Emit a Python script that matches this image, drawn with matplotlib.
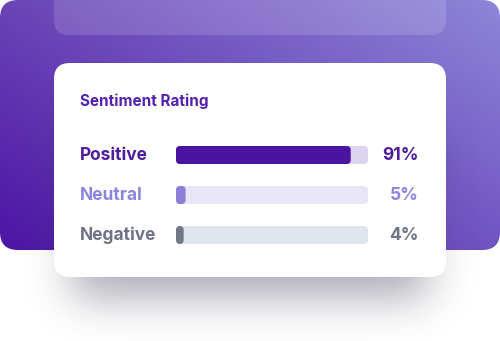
import math
import numpy as np
import matplotlib
matplotlib.use('Agg')
import matplotlib.pyplot as plt
from matplotlib.patches import FancyBboxPatch
from matplotlib.transforms import blended_transform_factory

# data
categories = ['Positive', 'Neutral', 'Negative']
values = [91, 5, 4]
value_labels = ['91%', '5%', '4%']
title = 'Sentiment Rating'

text_colors = ['#4f1d9c', '#8d85db', '#6e7485']
fill_colors = ['#4b14a0', '#8a80d8', '#717888']
track_colors = ['#ddd4ef', '#e9e6f8', '#e0e5ef']

plt.rcParams['font.family'] = ['Inter', 'DejaVu Sans']

W, H = 500, 341
fig = plt.figure(figsize=(W / 100, H / 100), dpi=100)
fig.patch.set_facecolor('white')

# background canvas in pixel coordinates
bg = fig.add_axes([0, 0, 1, 1])
bg.set_xlim(0, W)
bg.set_ylim(H, 0)
bg.axis('off')

# purple gradient panel (diagonal: dark bottom-left -> light top-right)
c_tl = np.array([0x6a, 0x44, 0xb6]) / 255
c_tr = np.array([0x8e, 0x86, 0xd8]) / 255
c_bl = np.array([0x4c, 0x14, 0xa4]) / 255
c_br = np.array([0x70, 0x54, 0xc2]) / 255
u = np.linspace(0, 1, W)[None, :, None]
v = np.linspace(0, 1, 250)[:, None, None]
grad = (c_tl * (1 - u) * (1 - v) + c_tr * u * (1 - v)
        + c_bl * (1 - u) * v + c_br * u * v)
panel = FancyBboxPatch((0, 0), W, 250, boxstyle='round,pad=0,rounding_size=18',
                       facecolor='none', edgecolor='none')
bg.add_patch(panel)
im = bg.imshow(grad, extent=(0, W, 250, 0), interpolation='bilinear', zorder=1)
im.set_clip_path(panel)

# translucent strip at top
bg.add_patch(FancyBboxPatch((54, -30), 392, 65, boxstyle='round,pad=0,rounding_size=15',
                            facecolor='white', edgecolor='none', alpha=0.14, zorder=2))

# soft shadow under the card
erf = np.vectorize(math.erf)
xs = np.arange(W) + 0.5
ys = np.arange(H) + 0.5
s = 30.0
fx = 0.5 * (erf((xs - 72) / s) - erf((xs - 428) / s))
fy = 0.5 * (erf((ys - 130) / s) - erf((ys - 298) / s))
alpha = 0.42 * np.outer(fy, fx)
shadow = np.zeros((H, W, 4))
shadow[..., 0] = 0.24
shadow[..., 1] = 0.22
shadow[..., 2] = 0.32
shadow[..., 3] = alpha
bg.imshow(shadow, extent=(0, W, H, 0), interpolation='bilinear', zorder=3)
bg.set_xlim(0, W)
bg.set_ylim(H, 0)

# white card
bg.add_patch(FancyBboxPatch((54, 63), 392, 214, boxstyle='round,pad=0,rounding_size=16',
                            facecolor='white', edgecolor='none', zorder=4))

bg.text(80, 101, title, fontsize=11, fontweight='bold', color='#5421b0',
        ha='left', va='center', zorder=5)

# bars axes: x 0-100 mapped on the track width
x0, x1, y_top, y_bot = 176, 368, 135, 255
ax = fig.add_axes([x0 / W, (H - y_bot) / H, (x1 - x0) / W, (y_bot - y_top) / H])
ax.set_xlim(0, 100)
ax.set_ylim(len(categories) - 0.5, -0.5)
ax.axis('off')
ax.patch.set_alpha(0)

px_x = (x1 - x0) / 100.0
px_y = (y_bot - y_top) / len(categories)
bar_h = 18 / px_y
r = 4 / px_x
aspect = (1 / px_y) / (1 / px_x)

for i, (val, fc, tc) in enumerate(zip(values, fill_colors, track_colors)):
    ax.add_patch(FancyBboxPatch((0, i - bar_h / 2), 100, bar_h,
                                boxstyle=f'round,pad=0,rounding_size={r}',
                                mutation_aspect=aspect, facecolor=tc, edgecolor='none'))
    ax.add_patch(FancyBboxPatch((0, i - bar_h / 2), val, bar_h,
                                boxstyle=f'round,pad=0,rounding_size={r}',
                                mutation_aspect=aspect, facecolor=fc, edgecolor='none'))

tr = blended_transform_factory(bg.transData, ax.transData)
for i, (cat, lab, col) in enumerate(zip(categories, value_labels, text_colors)):
    ax.text(80, i, cat, transform=tr, fontsize=12.5, fontweight='bold', color=col,
            ha='left', va='center')
    ax.text(419, i, lab, transform=tr, fontsize=12.5, fontweight='bold', color=col,
            ha='right', va='center')

fig.savefig('out.png', dpi=100)
